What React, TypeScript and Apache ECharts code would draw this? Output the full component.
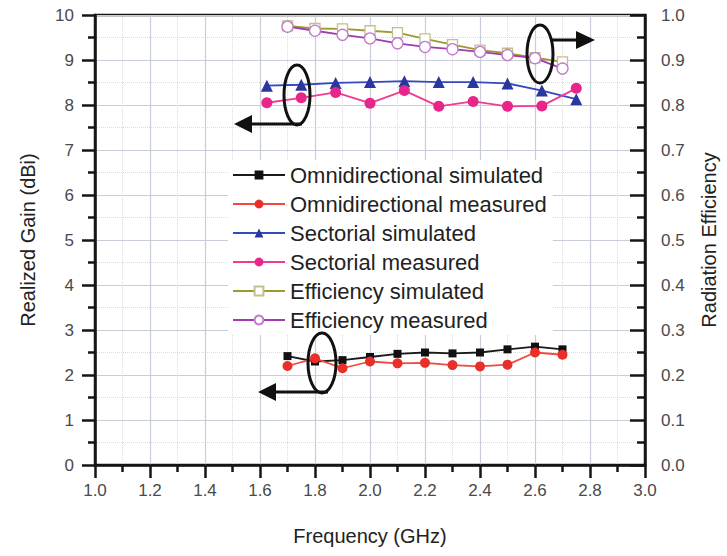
import React, { useEffect, useRef } from "react";
import * as echarts from "echarts";

const freqOmni = [1.7, 1.8, 1.9, 2.0, 2.1, 2.2, 2.3, 2.4, 2.5, 2.6, 2.7];
const omniSimulated = [2.42, 2.3, 2.33, 2.4, 2.47, 2.5, 2.48, 2.5, 2.57, 2.63, 2.57];
const omniMeasured = [2.2, 2.37, 2.15, 2.3, 2.26, 2.27, 2.22, 2.19, 2.23, 2.5, 2.45];

const freqSect = [1.625, 1.75, 1.875, 2.0, 2.125, 2.25, 2.375, 2.5, 2.625, 2.75];
const sectSimulated = [8.43, 8.45, 8.49, 8.51, 8.53, 8.51, 8.51, 8.48, 8.32, 8.13];
const sectMeasured = [8.05, 8.16, 8.28, 8.04, 8.32, 7.97, 8.08, 7.97, 7.98, 8.37];

const freqEff = [1.7, 1.8, 1.9, 2.0, 2.1, 2.2, 2.3, 2.4, 2.5, 2.6, 2.7];
const effSimulated = [0.976, 0.97, 0.969, 0.965, 0.961, 0.947, 0.934, 0.922, 0.915, 0.905, 0.896];
const effMeasured = [0.974, 0.965, 0.956, 0.948, 0.937, 0.929, 0.924, 0.918, 0.911, 0.904, 0.881];

const seriesNames = [
  "Omnidirectional simulated",
  "Omnidirectional measured",
  "Sectorial simulated",
  "Sectorial measured",
  "Efficiency simulated",
  "Efficiency measured",
];

const FONT = "Liberation Sans, Arial, sans-serif";

const zip = (xs: number[], ys: number[]) => xs.map((x, i) => [x, ys[i]]);

export default function App() {
  const ref = useRef<HTMLDivElement>(null);
  useEffect(() => {
    if (!ref.current) return;
    const chart = echarts.init(ref.current, null, { renderer: "svg" });
    const axisLine = { show: true, lineStyle: { color: "#151515", width: 2.5 } };
    const labelStyle = { color: "#4a4a4a", fontSize: 17, fontFamily: FONT };
    const nameStyle = { color: "#222", fontSize: 20, fontFamily: FONT };
    const arrowStroke = { stroke: "#111", lineWidth: 3 };
    chart.setOption({
      animation: false,
      backgroundColor: "#fff",
      grid: {
        left: 95,
        right: 77,
        top: 15,
        bottom: 91,
        show: true,
        borderColor: "#151515",
        borderWidth: 2.5,
        backgroundColor: "transparent",
      },
      legend: {
        orient: "vertical",
        left: 228,
        top: 160,
        data: seriesNames,
        itemWidth: 52,
        itemHeight: 11,
        itemGap: 7,
        padding: [4, 6, 4, 4],
        backgroundColor: "#fff",
        textStyle: { color: "#222", fontSize: 22, fontFamily: FONT, lineHeight: 21 },
      },
      xAxis: {
        type: "value",
        min: 1,
        max: 3,
        interval: 0.2,
        name: "Frequency (GHz)",
        nameLocation: "middle",
        nameGap: 61,
        nameTextStyle: nameStyle,
        axisLine,
        axisTick: { show: true, length: 13, lineStyle: { color: "#151515", width: 2.5 } },
        minorTick: { show: true, splitNumber: 2, length: 7, lineStyle: { color: "#151515", width: 2.5 } },
        axisLabel: { ...labelStyle, margin: 17, formatter: (v: number) => v.toFixed(1) },
        splitLine: { show: true, lineStyle: { color: "#c9cdd8", width: 1.2 } },
        minorSplitLine: { show: true, lineStyle: { color: "#dcdcdc", width: 1, type: "dotted" } },
      },
      yAxis: [
        {
          type: "value",
          min: 0,
          max: 10,
          interval: 1,
          name: "Realized Gain (dBi)",
          nameLocation: "middle",
          nameGap: 57,
          nameTextStyle: nameStyle,
          axisLine,
          axisTick: { show: true, length: 13, lineStyle: { color: "#151515", width: 2.5 } },
          minorTick: { show: true, splitNumber: 2, length: 7, lineStyle: { color: "#151515", width: 2.5 } },
          axisLabel: { ...labelStyle, margin: 21 },
          splitLine: { show: true, lineStyle: { color: "#c9cdd8", width: 1.2 } },
          minorSplitLine: { show: true, lineStyle: { color: "#dcdcdc", width: 1, type: "dotted" } },
        },
        {
          type: "value",
          min: 0,
          max: 1,
          interval: 0.1,
          position: "right",
          name: "Radiation Efficiency",
          nameLocation: "middle",
          nameGap: 54,
          nameTextStyle: nameStyle,
          axisLine,
          axisTick: { show: true, inside: true, length: 15, lineStyle: { color: "#151515", width: 2.5 } },
          minorTick: { show: true, splitNumber: 2, length: 8, lineStyle: { color: "#151515", width: 2.5 } },
          axisLabel: { ...labelStyle, margin: 16, formatter: (v: number) => v.toFixed(1) },
          splitLine: { show: false },
        },
      ],
      series: [
        {
          name: seriesNames[0],
          type: "line",
          data: zip(freqOmni, omniSimulated),
          symbol: "rect",
          symbolSize: 8,
          lineStyle: { color: "#1a1a1a", width: 1.8 },
          itemStyle: { color: "#111" },
        },
        {
          name: seriesNames[1],
          type: "line",
          data: zip(freqOmni, omniMeasured),
          symbol: "circle",
          symbolSize: 10,
          lineStyle: { color: "#f04a40", width: 1.8 },
          itemStyle: { color: "#e8302a" },
        },
        {
          name: seriesNames[2],
          type: "line",
          data: zip(freqSect, sectSimulated),
          symbol: "triangle",
          symbolSize: 12,
          lineStyle: { color: "#3448c0", width: 1.8 },
          itemStyle: { color: "#2a379f" },
        },
        {
          name: seriesNames[3],
          type: "line",
          data: zip(freqSect, sectMeasured),
          symbol: "circle",
          symbolSize: 11,
          lineStyle: { color: "#ee3c92", width: 1.8 },
          itemStyle: { color: "#e8258a" },
        },
        {
          name: seriesNames[4],
          type: "line",
          yAxisIndex: 1,
          data: zip(freqEff, effSimulated),
          symbol: "rect",
          symbolSize: 10,
          lineStyle: { color: "#9c9a30", width: 1.8 },
          itemStyle: { color: "#fff", borderColor: "#c4bf8c", borderWidth: 1.3 },
        },
        {
          name: seriesNames[5],
          type: "line",
          yAxisIndex: 1,
          data: zip(freqEff, effMeasured),
          symbol: "circle",
          symbolSize: 11,
          lineStyle: { color: "#a03cb0", width: 1.8 },
          itemStyle: { color: "#fff", borderColor: "#c07ad0", borderWidth: 1.3 },
        },
      ],
      graphic: [
        { type: "ellipse", shape: { cx: 297, cy: 95, rx: 13, ry: 30 }, style: { fill: "none", ...arrowStroke }, z: 100 },
        { type: "line", shape: { x1: 302, y1: 124, x2: 248, y2: 124 }, style: arrowStroke, z: 100 },
        { type: "polygon", shape: { points: [[234, 124], [252, 115], [252, 133]] }, style: { fill: "#111" }, z: 100 },

        { type: "ellipse", shape: { cx: 540, cy: 54, rx: 13, ry: 29 }, style: { fill: "none", ...arrowStroke }, z: 100 },
        { type: "line", shape: { x1: 552, y1: 40, x2: 580, y2: 40 }, style: arrowStroke, z: 100 },
        { type: "polygon", shape: { points: [[595, 40], [576, 31], [576, 49]] }, style: { fill: "#111" }, z: 100 },

        { type: "ellipse", shape: { cx: 322, cy: 363, rx: 14, ry: 30 }, style: { fill: "none", ...arrowStroke }, z: 100 },
        { type: "line", shape: { x1: 328, y1: 392, x2: 272, y2: 392 }, style: arrowStroke, z: 100 },
        { type: "polygon", shape: { points: [[258, 392], [276, 383], [276, 401]] }, style: { fill: "#111" }, z: 100 },
      ],
    });
    return () => chart.dispose();
  }, []);
  return (
    <div
      ref={ref}
      style={{ position: "fixed", left: 0, top: 0, width: 727, height: 556, background: "#fff" }}
    />
  );
}
